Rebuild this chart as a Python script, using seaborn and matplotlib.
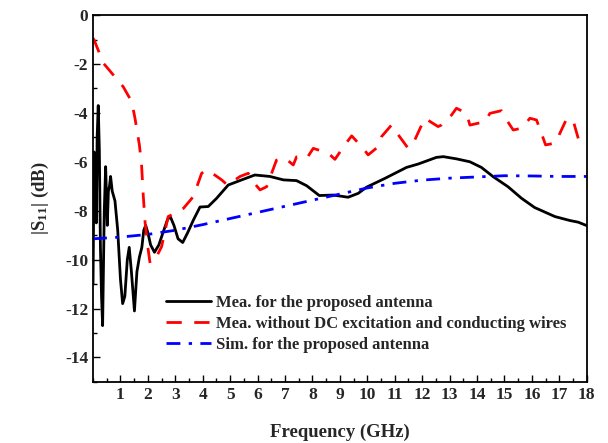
import numpy as np
import pandas as pd
import seaborn as sns
import matplotlib
matplotlib.use("Agg")
import matplotlib.pyplot as plt
from matplotlib.ticker import MultipleLocator

# Measured |S11| of the proposed antenna
mea_freq = [0.0, 0.04, 0.08, 0.12, 0.15, 0.19, 0.23, 0.27, 0.31, 0.35, 0.41, 0.46, 0.52,
            0.56, 0.60, 0.64, 0.70, 0.80, 0.90, 1.00, 1.08, 1.16, 1.25, 1.32, 1.40,
            1.51, 1.60, 1.69, 1.78, 1.85, 1.92, 2.00, 2.10, 2.24, 2.40, 2.55, 2.72,
            2.82, 2.95, 3.10, 3.27, 3.45, 3.66, 3.90, 4.20, 4.50, 4.93, 5.42, 5.90,
            6.45, 6.94, 7.42, 7.79, 8.25, 8.76, 9.30, 9.67, 9.97, 10.64, 11.43,
            11.86, 12.52, 12.77, 13.25, 13.74, 14.16, 14.59, 15.13, 15.62, 16.10,
            16.84, 17.38, 17.69, 18.0]
mea_s11 = [-11.0, -5.6, -6.2, -8.5, -5.0, -3.7, -5.5, -9.5, -11.5, -12.7, -8.0, -6.2, -8.6,
           -7.2, -7.0, -6.6, -7.2, -7.6, -8.8, -10.8, -11.8, -11.5, -10.0, -9.5, -10.5,
           -12.1, -10.5, -9.9, -9.5, -8.8, -8.6, -8.9, -9.4, -9.7, -9.4, -8.9, -8.35,
           -8.25, -8.6, -9.15, -9.3, -8.9, -8.38, -7.85, -7.83, -7.5, -6.95, -6.74, -6.54,
           -6.6, -6.74, -6.77, -6.98, -7.38, -7.36, -7.45, -7.29, -7.04, -6.68, -6.23,
           -6.09, -5.82, -5.79, -5.88, -6.0, -6.23, -6.61, -7.02, -7.49, -7.87,
           -8.24, -8.4, -8.47, -8.61]

# Measured |S11| without DC excitation and conducting wires
nodc_freq = [0.0, 0.04, 0.38, 0.74, 1.10, 1.41, 1.53, 1.69, 1.77, 1.83, 1.90, 2.00,
             2.08, 2.26, 2.50, 2.74, 2.99, 3.30, 3.66, 3.96, 4.14, 4.45, 4.69, 4.90,
             5.36, 5.66, 5.90, 6.09, 6.33, 6.69, 7.00, 7.30, 7.42, 7.79, 8.03, 8.58,
             8.82, 9.18, 9.43, 9.85, 10.03, 10.40, 10.52, 10.88, 11.13, 11.49, 11.73,
             11.98, 12.10, 12.58, 12.70, 13.07, 13.25, 13.62, 13.74, 14.29, 14.47,
             14.89, 15.08, 15.32, 15.62, 15.93, 16.17, 16.35, 16.50, 16.84, 17.02,
             17.26, 17.50, 17.69, 17.81]
nodc_s11 = [-0.95, -1.02, -1.97, -2.45, -2.93, -3.54, -4.22, -5.31, -6.13, -7.36, -8.5, -9.5,
            -10.15, -10.0, -9.47, -8.24, -8.1, -7.9, -7.42, -6.47, -6.33, -6.55, -6.74, -6.95,
            -6.6, -6.47, -6.9, -7.15, -7.02, -5.93, -5.85, -6.13, -5.8, -5.86, -5.45, -5.65,
            -5.9, -5.31, -4.94, -5.45, -5.72, -5.38, -4.97, -4.5, -4.9, -5.45, -5.11,
            -4.5, -4.22, -4.56, -4.5, -4.09, -3.81, -4.02, -4.5, -4.36, -4.02,
            -3.91, -4.29, -4.7, -4.63, -4.22, -4.29, -4.84, -5.31, -5.24, -4.84,
            -4.26, -4.29, -5.04, -5.45]

# Simulated |S11| of the proposed antenna
sim_freq = [0, 1, 2, 3, 4, 5, 6, 7, 8, 9, 10, 11, 12, 13, 14, 15, 16, 17, 18]
sim_s11 = [-9.15, -9.08, -8.97, -8.8, -8.57, -8.32, -8.07, -7.82, -7.57, -7.32, -7.07,
           -6.88, -6.75, -6.67, -6.62, -6.57, -6.58, -6.6, -6.6]

labels = ["Mea. for the proposed antenna",
          "Mea. without DC excitation and conducting wires",
          "Sim. for the proposed antenna"]

sns.set_theme(style="ticks")
plt.rcParams["font.family"] = ["Liberation Serif", "DejaVu Serif"]
plt.rcParams["font.weight"] = "bold"
plt.rcParams["axes.unicode_minus"] = False
plt.rcParams["mathtext.fontset"] = "custom"
plt.rcParams["mathtext.rm"] = "Liberation Serif:bold"
plt.rcParams["mathtext.it"] = "Liberation Serif:bold"
plt.rcParams["mathtext.bf"] = "Liberation Serif:bold"

fig = plt.figure(figsize=(6.08, 4.43), dpi=100)
ax = fig.add_axes([0.153, 0.138, 0.812, 0.828])

sns.lineplot(x=mea_freq, y=mea_s11, ax=ax, color="black", linewidth=2.0,
             label=labels[0], sort=False)
sns.lineplot(x=nodc_freq, y=nodc_s11, ax=ax, color="#ff0000", linewidth=2.0,
             label=labels[1], sort=False, linestyle=(0, (5.5, 4.5)))
sns.lineplot(x=sim_freq, y=sim_s11, ax=ax, color="#0000ff", linewidth=2.0,
             label=labels[2], sort=False, linestyle=(0, (5, 3, 1.2, 3)))

ax.set_xlim(0, 18)
ax.set_ylim(-15, 0)
ax.xaxis.set_major_locator(MultipleLocator(1))
ax.xaxis.set_minor_locator(MultipleLocator(0.5))
ax.yaxis.set_major_locator(MultipleLocator(2))
ax.yaxis.set_minor_locator(MultipleLocator(1))
ax.set_xticks(range(1, 19))
ax.set_xticklabels([str(i) for i in range(1, 19)])
ax.set_yticks(range(-14, 1, 2))
ax.set_yticklabels([str(i) for i in range(-14, 1, 2)])
ax.tick_params(which="both", direction="in", top=False, right=False, color="black",
               labelsize=12.5, width=1.0)
ax.tick_params(which="major", length=5)
ax.tick_params(which="minor", length=3)
for lab in ax.get_xticklabels() + ax.get_yticklabels():
    lab.set_fontweight("bold")
for sp in ax.spines.values():
    sp.set_color("black")
    sp.set_linewidth(1.3)

ax.set_xlabel("Frequency (GHz)", fontsize=13.5, fontweight="bold", labelpad=15)
ax.set_ylabel(r"|S$_{11}$| (dB)", fontsize=13.5, fontweight="bold", labelpad=10)

leg = ax.legend(loc="lower left", bbox_to_anchor=(0.135, 0.06), frameon=False,
                prop={"family": "Liberation Serif", "weight": "bold", "size": 12},
                handlelength=2.7, handletextpad=0.3, labelspacing=0.3, borderaxespad=0)

fig.savefig("out.png", dpi=100)
